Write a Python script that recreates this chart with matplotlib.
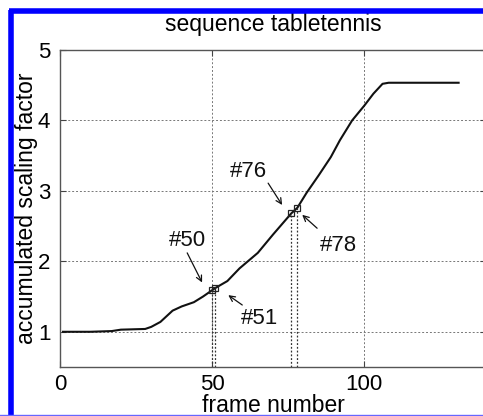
import numpy as np
import matplotlib
matplotlib.use('Agg')
import matplotlib.pyplot as plt
from matplotlib.lines import Line2D

plt.rcParams['font.family'] = ['Liberation Sans', 'DejaVu Sans']

# accumulated scaling factor
frames = [1, 10, 17, 20, 28, 30, 33, 37, 40, 44, 47, 51, 55, 59, 65, 70,
          76, 78, 81, 85, 89, 92, 96, 100, 103, 106, 108, 131]
scale = [1.00, 1.00, 1.01, 1.03, 1.04, 1.07, 1.14, 1.30, 1.36, 1.42, 1.50,
         1.62, 1.72, 1.90, 2.12, 2.38, 2.68, 2.76, 2.97, 3.22, 3.48, 3.72,
         4.00, 4.21, 4.38, 4.52, 4.535, 4.535]

marked = [50, 51, 76, 78]
labels = ['#50', '#51', '#76', '#78']
# label position, arrow tail, arrow head (data units)
label_pos = [(41.8, 2.30), (65.5, 1.19), (61.8, 3.27), (91.5, 2.23)]
arrow_tail = [(41.8, 2.12), (59.9, 1.38), (68.4, 3.11), (84.5, 2.47)]
arrow_head = [(46.7, 1.70), (55.3, 1.52), (73.0, 2.80), (79.6, 2.66)]

marked_val = np.interp(marked, frames, scale)

fig = plt.figure(figsize=(4.83, 4.16), dpi=100)
ax = fig.add_axes([60/483, 49/416, 426/483, 317/416])

ax.plot(frames, scale, color='#111111', lw=1.5)
ax.vlines(marked, 0.5, marked_val, colors='#333333', linestyles=(0, (1.5, 1.5)), lw=0.9)
ax.plot(marked, marked_val, 's', mfc='none', mec='#222222', ms=5, mew=0.9)

for lab, p, t, h in zip(labels, label_pos, arrow_tail, arrow_head):
    ax.text(p[0], p[1], lab, fontsize=16, ha='center', va='center', color='#111111')
    ax.annotate('', xy=h, xytext=t,
                arrowprops=dict(arrowstyle='->', color='#111111', lw=0.9,
                                mutation_scale=10, shrinkA=0, shrinkB=0))

ax.set_xlim(0, 140)
ax.set_ylim(0.5, 5)
ax.set_xticks([0, 50, 100])
ax.set_yticks([1, 2, 3, 4, 5])
ax.grid(True, color='#777777', linestyle=(0, (2, 2)), lw=0.7)
ax.tick_params(direction='in', length=4, labelsize=16, color='#444444',
               top=True, right=True, pad=7)
ax.tick_params(axis='x', pad=5)
for s in ax.spines.values():
    s.set_color('#555555')
    s.set_linewidth(1.0)

ax.set_title('sequence tabletennis', fontsize=16.5, pad=14)
ax.set_xlabel('frame number', fontsize=16.5, labelpad=-1)
ax.set_ylabel('accumulated scaling factor', fontsize=16.5)
ax.yaxis.set_label_coords(-0.052, 0.5)

# blue frame (top and left thick, bottom thin)
W, H = 483, 416
fig.lines.append(Line2D([10.5/W, 10.5/W], [0, 1 - 10/H], transform=fig.transFigure,
                        color='#0000ff', lw=4, solid_capstyle='butt'))
fig.lines.append(Line2D([8.5/W, 1], [1 - 10.5/H, 1 - 10.5/H], transform=fig.transFigure,
                        color='#0000ff', lw=4, solid_capstyle='butt'))
fig.lines.append(Line2D([0, 1], [1.2/H, 1.2/H], transform=fig.transFigure,
                        color='#6666ff', lw=1))

fig.savefig('out.png', dpi=100)
